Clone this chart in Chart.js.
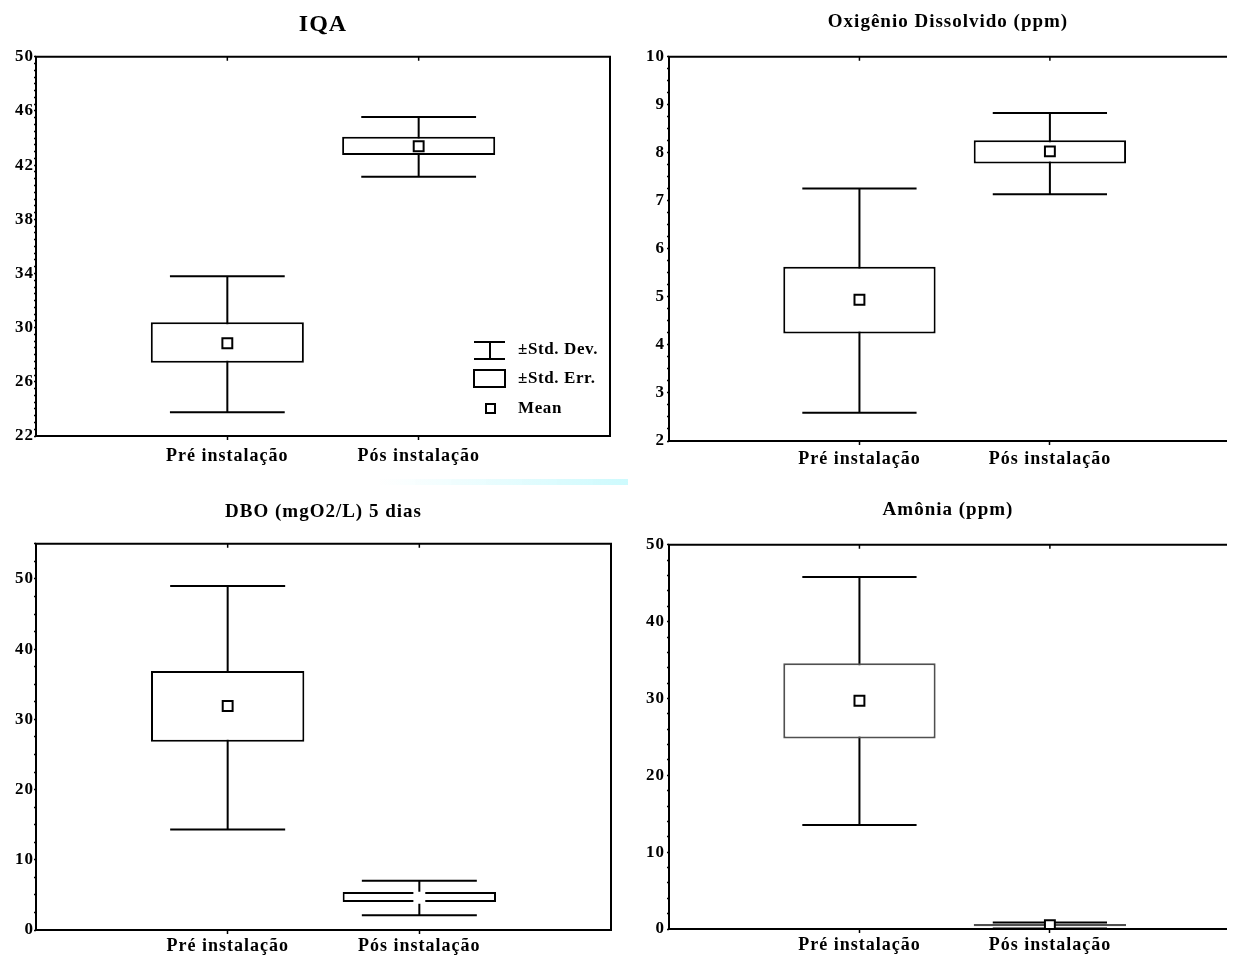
<!DOCTYPE html>
<html>
<head>
<meta charset="utf-8">
<script src="https://cdn.jsdelivr.net/npm/chart.js@4.4.1/dist/chart.umd.min.js"></script>
<style>
  body { margin: 0; background: #fff; width: 1236px; height: 956px; overflow: hidden; position: relative; }
  canvas { position: absolute; }
  #p1 { left: 0; top: 0; }
  #p2 { left: 620px; top: 0; }
  #p3 { left: 0; top: 480px; }
  #p4 { left: 620px; top: 480px; }
  .streak { position: absolute; left: 380px; top: 479px; width: 248px; height: 6px; z-index: 2;
    background: linear-gradient(to right, rgba(215, 252, 253, 0), #cdfafd); }
</style>
</head>
<body>
<canvas id="p1" width="620" height="480"></canvas>
<canvas id="p2" width="616" height="480"></canvas>
<canvas id="p3" width="620" height="476"></canvas>
<canvas id="p4" width="616" height="476"></canvas>
<div class="streak"></div>
<script>
const categories = ['Pré instalação', 'Pós instalação'];
const legendLabels = ['±Std. Dev.', '±Std. Err.', 'Mean'];

// IQA
const iqaMean = [28.85, 43.4];
const iqaErrLow = [27.4, 42.75];
const iqaErrHigh = [30.4, 44.1];
const iqaDevLow = [23.75, 41.15];
const iqaDevHigh = [33.8, 45.55];
const iqaTicks = [22, 26, 30, 34, 38, 42, 46, 50];

// Oxigênio Dissolvido
const odMean = [4.94, 8.03];
const odErrLow = [4.24, 7.78];
const odErrHigh = [5.63, 8.26];
const odDevLow = [2.59, 7.14];
const odDevHigh = [7.26, 8.83];
const odTicks = [2, 3, 4, 5, 6, 7, 8, 9, 10];

// DBO
const dboMean = [31.9, 4.6];
const dboErrLow = [26.8, 4.0];
const dboErrHigh = [36.9, 5.4];
const dboDevLow = [14.3, 2.1];
const dboDevHigh = [49.0, 7.0];
const dboTicks = [0, 10, 20, 30, 40, 50];

// Amônia
const amoMean = [29.7, 0.5];
const amoErrLow = [24.8, 0.35];
const amoErrHigh = [34.6, 0.65];
const amoDevLow = [13.55, 0.05];
const amoDevHigh = [45.8, 0.85];
const amoTicks = [0, 10, 20, 30, 40, 50];

const FONT = "'Liberation Serif', 'Times New Roman', serif";
const SPACING = '1px';

function minorTicks(min, max, step) {
  const out = [];
  const n = Math.round((max - min) / step);
  for (let i = 0; i <= n; i++) out.push({ value: +(min + i * step).toFixed(4) });
  return out;
}

const spacing = {
  id: 'spacing',
  beforeUpdate(chart) { chart.ctx.letterSpacing = SPACING; },
  beforeDraw(chart) { chart.ctx.letterSpacing = SPACING; }
};

function frame(right) {
  return {
    id: 'frame',
    afterDatasetsDraw(chart) {
      const { ctx, chartArea: a, scales: { x } } = chart;
      ctx.save();
      ctx.strokeStyle = '#000';
      ctx.lineWidth = 2;
      ctx.beginPath();
      ctx.moveTo(a.left, a.bottom);
      ctx.lineTo(a.left, a.top);
      ctx.lineTo(a.right, a.top);
      if (right) ctx.lineTo(a.right, a.bottom); else ctx.moveTo(a.right, a.bottom);
      ctx.lineTo(a.left, a.bottom);
      ctx.stroke();
      ctx.lineWidth = 1.5;
      ctx.beginPath();
      x.ticks.forEach(t => {
        const px = x.getPixelForValue(t.value);
        ctx.moveTo(px, a.top);
        ctx.lineTo(px, a.top + 4);
      });
      ctx.stroke();
      ctx.restore();
    }
  };
}

function whiskers(low, high) {
  return {
    id: 'whiskers',
    beforeDatasetsDraw(chart) {
      const { ctx, scales: { x, y } } = chart;
      ctx.save();
      ctx.strokeStyle = '#000';
      ctx.lineWidth = 2;
      categories.forEach((c, i) => {
        const cx = x.getPixelForValue(i + 1);
        const half = x.getPixelForValue(i + 1.3) - cx;
        const yl = y.getPixelForValue(low[i]);
        const yh = y.getPixelForValue(high[i]);
        ctx.beginPath();
        ctx.moveTo(cx, yl); ctx.lineTo(cx, yh);
        ctx.moveTo(cx - half, yl); ctx.lineTo(cx + half, yl);
        ctx.moveTo(cx - half, yh); ctx.lineTo(cx + half, yh);
        ctx.stroke();
      });
      ctx.restore();
    }
  };
}

const iqaLegend = {
  id: 'iqaLegend',
  afterDraw(chart) {
    const { ctx, chartArea: a } = chart;
    const r = a.right, b = a.bottom;
    ctx.save();
    ctx.strokeStyle = '#000';
    ctx.lineWidth = 2;
    ctx.beginPath();
    ctx.moveTo(r - 136, b - 94); ctx.lineTo(r - 105, b - 94);
    ctx.moveTo(r - 120, b - 94); ctx.lineTo(r - 120, b - 77);
    ctx.moveTo(r - 136, b - 77); ctx.lineTo(r - 105, b - 77);
    ctx.stroke();
    ctx.strokeRect(r - 136, b - 66, 31, 17);
    ctx.strokeRect(r - 124, b - 32, 9, 9);
    ctx.fillStyle = '#000';
    ctx.font = 'bold 17px ' + FONT;
    ctx.letterSpacing = '0.6px';
    ctx.textBaseline = 'middle';
    ctx.textAlign = 'left';
    [b - 86, b - 57, b - 27].forEach((ty, i) => ctx.fillText(legendLabels[i], r - 92, ty));
    ctx.restore();
  }
};

function panel(id, cfg) {
  return new Chart(document.getElementById(id), {
    type: 'bar',
    data: {
      datasets: [
        {
          type: 'bar',
          data: categories.map((c, i) => ({ x: i + 1, y: [cfg.errLow[i], cfg.errHigh[i]] })),
          backgroundColor: '#fff',
          borderColor: cfg.boxColor || '#000',
          borderWidth: 2,
          borderSkipped: false,
          barPercentage: 0.8,
          categoryPercentage: 1,
          order: 2
        },
        {
          type: 'scatter',
          data: categories.map((c, i) => ({ x: i + 1, y: cfg.mean[i] })),
          pointStyle: 'rect',
          pointRadius: 7,
          pointBorderWidth: 2,
          pointBorderColor: cfg.meanBorder || '#000',
          pointBackgroundColor: '#fff',
          order: 1
        }
      ]
    },
    options: {
      responsive: false,
      animation: false,
      devicePixelRatio: 1,
      events: [],
      layout: { padding: { left: cfg.padL, right: cfg.padR, top: 0, bottom: 0 } },
      plugins: {
        legend: { display: false },
        tooltip: { enabled: false },
        title: {
          display: true,
          fullSize: false,
          text: cfg.title,
          color: '#000',
          font: { family: FONT, size: cfg.titleSize, weight: 'bold' },
          padding: { top: cfg.titleTop, bottom: cfg.titleBottom }
        }
      },
      scales: {
        x: {
          type: 'linear',
          min: 0,
          max: cfg.xMax,
          offset: false,
          afterBuildTicks: s => { s.ticks = [{ value: 1 }, { value: 2 }]; },
          afterFit: s => { s.height = cfg.xH; },
          ticks: {
            callback: v => categories[Math.round(v) - 1],
            color: '#000',
            font: { family: FONT, size: 18, weight: 'bold' },
            padding: cfg.xPad,
            maxRotation: 0,
            autoSkip: false
          },
          grid: { drawOnChartArea: false, tickLength: 4, tickColor: '#000', tickWidth: 1.5, offset: false },
          border: { display: false }
        },
        y: {
          min: cfg.ticks[0],
          max: cfg.yMax,
          afterBuildTicks: s => { s.ticks = minorTicks(cfg.ticks[0], cfg.yMax, cfg.minor); },
          afterFit: s => { s.width = cfg.yW; },
          ticks: {
            autoSkip: false,
            callback: v => cfg.ticks.some(m => Math.abs(m - v) < 1e-6) ? String(v) : '',
            color: '#000',
            font: { family: FONT, size: 17, weight: 'bold' },
            padding: cfg.yPad
          },
          grid: { drawOnChartArea: false, tickLength: 2, tickColor: '#000', tickWidth: 1.5 },
          border: { display: false }
        }
      }
    },
    plugins: [spacing, whiskers(cfg.devLow, cfg.devHigh), frame(cfg.right)].concat(cfg.extra || [])
  });
}

panel('p1', {
  title: 'IQA', titleSize: 24, titleTop: 10, titleBottom: 18,
  mean: iqaMean, errLow: iqaErrLow, errHigh: iqaErrHigh, devLow: iqaDevLow, devHigh: iqaDevHigh,
  ticks: iqaTicks, yMax: 50, minor: 0.5, xMax: 3,
  padL: 0, padR: 10, yW: 36, yPad: 0, xH: 44, xPad: 6, right: true,
  extra: [iqaLegend]
});

panel('p2', {
  title: 'Oxigênio Dissolvido (ppm)', titleSize: 19, titleTop: 11, titleBottom: 23,
  mean: odMean, errLow: odErrLow, errHigh: odErrHigh, devLow: odDevLow, devHigh: odDevHigh,
  ticks: odTicks, yMax: 10, minor: 0.25, xMax: 2.93,
  padL: 0, padR: 0, yW: 49, yPad: 2, xH: 39, xPad: 4, right: false
});

panel('p3', {
  title: 'DBO (mgO2/L) 5 dias', titleSize: 19, titleTop: 21, titleBottom: 20,
  mean: dboMean, errLow: dboErrLow, errHigh: dboErrHigh, devLow: dboDevLow, devHigh: dboDevHigh,
  meanBorder: ['#000', '#fff'],
  ticks: dboTicks, yMax: 55, minor: 2.5, xMax: 3,
  padL: 0, padR: 7, yW: 36, yPad: 0, xH: 26, xPad: 2, right: true
});

panel('p4', {
  title: 'Amônia (ppm)', titleSize: 19, titleTop: 19, titleBottom: 23,
  mean: amoMean, errLow: amoErrLow, errHigh: amoErrHigh, devLow: amoDevLow, devHigh: amoDevHigh,
  boxColor: '#505050',
  ticks: amoTicks, yMax: 50, minor: 2, xMax: 2.93,
  padL: 0, padR: 0, yW: 49, yPad: 2, xH: 27, xPad: 2, right: false
});
</script>
</body>
</html>
